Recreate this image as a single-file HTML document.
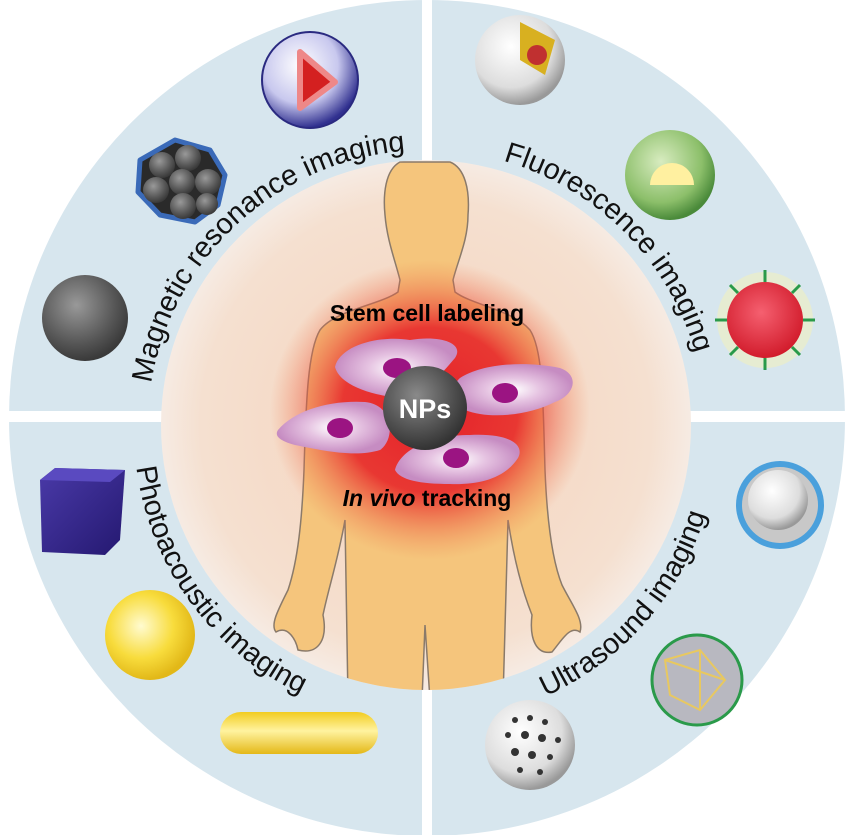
<!DOCTYPE html>
<html><head><meta charset="utf-8"><style>
html,body{margin:0;padding:0;background:#fff;}
svg{display:block;}
</style></head><body>
<svg width="853" height="835" viewBox="0 0 853 835" xmlns="http://www.w3.org/2000/svg" font-family="Liberation Sans, Arial, sans-serif">
<defs>
<radialGradient id="inner" cx="50%" cy="50%" r="50%">
<stop offset="0" stop-color="#f6d2bb"/><stop offset="0.85" stop-color="#f5e0d0"/><stop offset="1" stop-color="#f6ebe3"/>
</radialGradient>
<radialGradient id="glow" cx="50%" cy="50%" r="50%">
<stop offset="0" stop-color="#e4202a"/><stop offset="0.55" stop-color="#e8302e" stop-opacity="0.95"/><stop offset="1" stop-color="#f08050" stop-opacity="0"/>
</radialGradient>
<radialGradient id="np" cx="40%" cy="35%" r="65%">
<stop offset="0" stop-color="#8a8a8a"/><stop offset="0.6" stop-color="#555"/><stop offset="1" stop-color="#333"/>
</radialGradient>
<radialGradient id="gray" cx="40%" cy="35%" r="65%">
<stop offset="0" stop-color="#999"/><stop offset="0.7" stop-color="#555"/><stop offset="1" stop-color="#3a3a3a"/>
</radialGradient>
<radialGradient id="purp" cx="40%" cy="35%" r="65%">
<stop offset="0" stop-color="#fff"/><stop offset="0.6" stop-color="#c8c8ee"/><stop offset="1" stop-color="#30308f"/>
</radialGradient>
<radialGradient id="green" cx="40%" cy="35%" r="65%">
<stop offset="0" stop-color="#d8ecc0"/><stop offset="0.7" stop-color="#8cbf6a"/><stop offset="1" stop-color="#4a8a3a"/>
</radialGradient>
<radialGradient id="yel" cx="40%" cy="40%" r="60%">
<stop offset="0" stop-color="#fffbd0"/><stop offset="0.6" stop-color="#f8dc3c"/><stop offset="1" stop-color="#e2b818"/>
</radialGradient>
<radialGradient id="red" cx="45%" cy="40%" r="60%">
<stop offset="0" stop-color="#f56070"/><stop offset="1" stop-color="#d21c2c"/>
</radialGradient>
<radialGradient id="white" cx="40%" cy="35%" r="65%">
<stop offset="0" stop-color="#fff"/><stop offset="0.7" stop-color="#ddd"/><stop offset="1" stop-color="#999"/>
</radialGradient>
<radialGradient id="cell" cx="50%" cy="50%" r="50%">
<stop offset="0" stop-color="#ffffff"/><stop offset="0.45" stop-color="#e6c4e2"/><stop offset="1" stop-color="#c68cc2"/>
</radialGradient>
<linearGradient id="rod" x1="0" y1="0" x2="0" y2="1">
<stop offset="0" stop-color="#f2cc20"/><stop offset="0.45" stop-color="#fff3a0"/><stop offset="1" stop-color="#e4b818"/>
</linearGradient>
<linearGradient id="cube" x1="0" y1="0" x2="1" y2="1">
<stop offset="0" stop-color="#4a3aa8"/><stop offset="1" stop-color="#241870"/>
</linearGradient>
<clipPath id="ic"><circle cx="426" cy="425" r="265"/></clipPath>
<path id="pMRI" d="M 151.1 383.4 A 280 280 0 0 1 416.2 150.2" fill="none"/>
<path id="pF" d="M 503.2 160.8 A 280 280 0 0 1 692.3 516.5" fill="none"/>
<path id="pP" d="M 135.1 455.4 A 292 292 0 0 0 330.9 706.1" fill="none"/>
<path id="pU" d="M 540.1 698.8 A 292 292 0 0 0 711.6 490.7" fill="none"/>
</defs>

<circle cx="427" cy="418" r="418" fill="#d7e6ee"/>
<rect x="422" y="0" width="10" height="835" fill="#fff"/>
<rect x="0" y="411" width="853" height="11" fill="#fff"/>

<circle cx="426" cy="425" r="265" fill="url(#inner)"/>
<g clip-path="url(#ic)">
<path d="M 400 162 C 385 170 383 195 385 215 C 387 240 395 260 400 280 L 398 292 C 380 305 335 310 320 330 C 308 350 306 400 304 470 C 302 520 298 560 288 590 C 278 610 270 625 276 632 C 288 625 296 640 298 650 C 318 655 328 640 323 615 C 328 590 338 560 345 520 L 348 700 L 422 700 L 425 625 L 430 700 L 503 700 L 508 520 C 514 560 522 590 532 615 C 529 640 537 655 552 652 C 562 640 570 625 580 632 C 584 620 572 605 562 585 C 552 560 547 520 545 470 C 543 400 543 350 530 330 C 513 310 472 305 455 292 L 453 280 C 458 260 468 240 468 215 C 470 190 465 168 450 162 Z" fill="#f5c57c" stroke="#8a7a6a" stroke-width="1.5"/>
<ellipse cx="430" cy="410" rx="160" ry="150" fill="url(#glow)"/>
</g>

<path d="M 335 367 C 340 345 380 335 410 340 C 440 335 465 343 455 358 C 440 375 430 390 400 398 C 370 395 340 385 335 367 Z" fill="url(#cell)"/>
<ellipse cx="397" cy="368" rx="14" ry="10" fill="#9b1482"/>
<path d="M 460 378 C 480 365 520 360 560 368 C 580 375 575 395 555 402 C 530 415 490 420 465 410 C 450 398 452 385 460 378 Z" fill="url(#cell)"/>
<ellipse cx="505" cy="393" rx="13" ry="10" fill="#9b1482"/>
<path d="M 278 430 C 295 410 330 400 365 402 C 395 405 395 440 380 450 C 355 458 320 450 295 445 C 280 441 274 436 278 430 Z" fill="url(#cell)"/>
<ellipse cx="340" cy="428" rx="13" ry="10" fill="#9b1482"/>
<path d="M 395 470 C 400 450 430 435 470 435 C 510 433 525 445 518 458 C 505 478 480 485 450 484 C 420 484 400 480 395 470 Z" fill="url(#cell)"/>
<ellipse cx="456" cy="458" rx="13" ry="10" fill="#9b1482"/>
<circle cx="425" cy="408" r="42" fill="url(#np)"/>
<text x="425" y="418" text-anchor="middle" font-size="27" font-weight="bold" fill="#fff">NPs</text>

<text x="427" y="321" text-anchor="middle" font-size="23" font-weight="bold" fill="#000">Stem cell labeling</text>
<text x="427" y="506" text-anchor="middle" font-size="23" font-weight="bold" fill="#000"><tspan font-style="italic">In vivo</tspan> tracking</text>

<text font-size="29" fill="#111"><textPath href="#pMRI">Magnetic resonance imaging</textPath></text>
<text font-size="29" fill="#111"><textPath href="#pF">Fluorescence imaging</textPath></text>
<text font-size="29" fill="#111"><textPath href="#pP" startOffset="12">Photoacoustic imaging</textPath></text>
<text font-size="29" fill="#111"><textPath href="#pU" startOffset="6">Ultrasound imaging</textPath></text>

<circle cx="85" cy="318" r="43" fill="url(#gray)"/>
<path d="M 140 160 L 175 140 L 210 150 L 225 175 L 218 205 L 195 222 L 160 215 L 138 192 Z" fill="#2a2a2a" stroke="#3a6ab8" stroke-width="5" stroke-linejoin="round"/>
<g fill="url(#gray)">
<circle cx="162" cy="165" r="13"/><circle cx="188" cy="158" r="13"/><circle cx="208" cy="182" r="13"/><circle cx="182" cy="182" r="13"/><circle cx="156" cy="190" r="13"/><circle cx="183" cy="206" r="13"/><circle cx="207" cy="204" r="11"/></g>
<circle cx="310" cy="80" r="48" fill="url(#purp)" stroke="#2a2a80" stroke-width="2"/>
<path d="M 300 52 L 335 82 L 300 108 Z" fill="#d42020" stroke="#e88" stroke-width="6" stroke-linejoin="round"/>

<circle cx="520" cy="60" r="45" fill="url(#white)"/>
<path d="M 520 22 L 555 40 L 545 75 L 520 60 Z" fill="#d8b020"/>
<circle cx="537" cy="55" r="10" fill="#c03030"/>
<circle cx="670" cy="175" r="45" fill="url(#green)"/>
<path d="M 650 185 A 22 22 0 0 1 694 185 Z" fill="#fff0a0"/>
<circle cx="765" cy="320" r="48" fill="#f0f0c0" opacity="0.6"/>
<circle cx="765" cy="320" r="38" fill="url(#red)"/>
<g stroke="#2a9a4a" stroke-width="3">
<line x1="765" y1="270" x2="765" y2="282"/><line x1="765" y1="358" x2="765" y2="370"/><line x1="715" y1="320" x2="727" y2="320"/><line x1="803" y1="320" x2="815" y2="320"/>
<line x1="730" y1="285" x2="738" y2="293"/><line x1="800" y1="285" x2="792" y2="293"/><line x1="730" y1="355" x2="738" y2="347"/><line x1="800" y1="355" x2="792" y2="347"/></g>

<path d="M 40 480 L 55 468 L 125 470 L 120 540 L 105 555 L 42 552 Z" fill="url(#cube)"/>
<path d="M 40 480 L 55 468 L 125 470 L 110 482 Z" fill="#5a4ac0"/>
<circle cx="150" cy="635" r="45" fill="url(#yel)"/>
<rect x="220" y="712" width="158" height="42" rx="21" fill="url(#rod)"/>

<circle cx="780" cy="505" r="44" fill="#4aa0dc"/>
<circle cx="780" cy="505" r="38" fill="#c8c8c8"/>
<circle cx="778" cy="500" r="30" fill="url(#white)"/>
<circle cx="697" cy="680" r="45" fill="#b8b8c0" stroke="#2a9a4a" stroke-width="3"/>
<path d="M 665 660 L 700 650 L 725 680 L 700 710 L 670 695 Z M 700 650 L 700 710 M 665 660 L 725 680" fill="none" stroke="#e8c860" stroke-width="2"/>
<circle cx="530" cy="745" r="45" fill="url(#white)"/>
<g fill="#333">
<circle cx="515" cy="720" r="3"/><circle cx="530" cy="718" r="3"/><circle cx="545" cy="722" r="3"/><circle cx="508" cy="735" r="3"/><circle cx="525" cy="735" r="4"/><circle cx="542" cy="738" r="4"/><circle cx="558" cy="740" r="3"/><circle cx="515" cy="752" r="4"/><circle cx="532" cy="755" r="4"/><circle cx="550" cy="757" r="3"/><circle cx="520" cy="770" r="3"/><circle cx="540" cy="772" r="3"/></g>
</svg>
</body></html>
